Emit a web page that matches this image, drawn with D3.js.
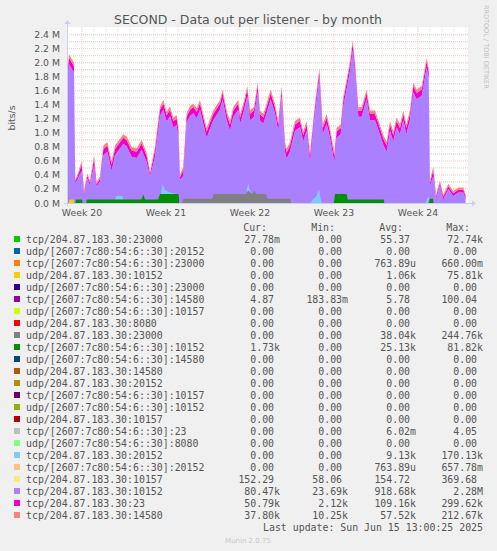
<!DOCTYPE html>
<html><head><meta charset="utf-8">
<script src="https://cdn.jsdelivr.net/npm/d3@7"></script>
<style>body{margin:0;background:#f0f0f0}</style></head>
<body><svg id="c" width="497" height="551"></svg>
<script>
// [day, tcp10152 (purple), tcp23 (magenta), tcp14580 (salmon)] in Mbit/s
const topLayers = [
[0,1.72,0.08,0.05],[0.17,1.98,0.09,0.05],[0.58,1.86,0.09,0.05],[0.69,0.28,0.04,0.03],[0.86,0.33,0.04,0.03],
[1.22,0.46,0.09,0.05],[1.42,0.11,0.04,0.03],[1.69,0.35,0.04,0.03],[1.92,0.25,0.04,0.03],[2.25,0.54,0.09,0.05],
[2.47,0.23,0.04,0.03],[2.75,0.31,0.04,0.03],[3.03,0.68,0.09,0.05],[3.36,0.73,0.09,0.05],[3.72,0.46,0.09,0.05],
[4.0,0.68,0.09,0.05],[4.69,0.84,0.09,0.05],[4.97,0.81,0.09,0.05],[5.39,0.66,0.09,0.05],[5.81,0.64,0.09,0.05],
[6.22,0.76,0.09,0.05],[6.64,0.58,0.09,0.05],[6.92,0.38,0.04,0.03],[7.33,0.66,0.09,0.05],[7.75,1.24,0.09,0.05],
[8.03,1.33,0.09,0.05],[8.31,1.16,0.09,0.05],[8.58,1.24,0.09,0.05],[8.86,1.08,0.09,0.05],[9.14,1.11,0.09,0.05],
[9.28,0.96,0.09,0.05],[9.42,0.33,0.04,0.03],[9.69,0.38,0.09,0.05],[9.97,1.14,0.09,0.05],[10.25,1.24,0.09,0.05],
[10.53,1.28,0.09,0.05],[10.81,1.21,0.09,0.05],[11.08,1.33,0.09,0.05],[11.64,0.93,0.09,0.05],[12.19,1.18,0.09,0.05],
[12.75,1.33,0.09,0.05],[12.97,1.48,0.09,0.05],[13.31,1.18,0.09,0.05],[13.58,1.03,0.09,0.05],[13.86,1.23,0.09,0.05],
[14.28,1.33,0.09,0.05],[14.42,1.13,0.09,0.05],[14.69,1.28,0.09,0.05],[15.03,1.53,0.09,0.05],[15.25,1.18,0.09,0.05],
[15.58,1.23,0.09,0.05],[15.89,1.58,0.09,0.05],[16.08,1.18,0.09,0.05],[16.36,1.13,0.09,0.05],[16.64,1.28,0.09,0.05],
[16.97,1.48,0.09,0.05],[17.33,1.28,0.09,0.05],[17.61,1.03,0.09,0.05],[17.89,1.53,0.09,0.05],[18.17,0.73,0.09,0.05],
[18.31,0.63,0.09,0.05],[18.58,0.73,0.09,0.05],[19.0,1.03,0.09,0.05],[19.42,1.08,0.09,0.05],[19.69,0.88,0.09,0.05],
[19.97,1.03,0.09,0.05],[20.25,0.58,0.09,0.05],[20.67,1.28,0.09,0.05],[21.03,1.78,0.09,0.05],[21.31,0.98,0.09,0.05],
[21.64,1.13,0.09,0.05],[21.92,0.93,0.09,0.05],[22.28,0.58,0.09,0.05],[22.47,0.93,0.09,0.05],[22.81,0.98,0.09,0.05],
[23.03,1.38,0.09,0.05],[23.31,1.63,0.09,0.05],[23.58,1.88,0.09,0.05],[23.81,2.18,0.09,0.05],[24.0,1.88,0.09,0.05],
[24.28,1.23,0.09,0.05],[24.56,1.23,0.09,0.05],[24.97,1.48,0.09,0.05],[25.25,1.18,0.09,0.05],[25.67,1.18,0.09,0.05],
[26.08,0.98,0.09,0.05],[26.36,0.83,0.09,0.05],[26.64,0.73,0.09,0.05],[26.92,1.03,0.09,0.05],[27.19,0.88,0.09,0.05],
[27.47,1.08,0.09,0.05],[27.75,0.98,0.09,0.05],[28.03,1.18,0.09,0.05],[28.28,0.98,0.09,0.05],[28.58,1.18,0.09,0.05],
[28.86,1.58,0.09,0.05],[29.14,1.48,0.09,0.05],[29.56,1.53,0.09,0.05],[29.97,1.93,0.09,0.05],[30.14,1.78,0.09,0.05],
[30.25,0.25,0.04,0.03],[30.53,0.38,0.09,0.05],[30.75,0.05,0.04,0.03],[31.08,0.25,0.04,0.03],[31.36,0.05,0.04,0.03],
[31.78,0.20,0.04,0.03],[32.19,0.10,0.04,0.03],[32.61,0.15,0.04,0.03],[33.03,0.15,0.04,0.03],[33.22,0.05,0.04,0.03]
];
const lightBlue = [[3.9,0],[4.1,0.1],[4.6,0.1],[4.8,0],[7.7,0],[7.8,0.1],[7.95,0.27],[8.2,0.18],[8.6,0.15],[9.2,0.12],[9.3,0],
 [14.9,0],[15.0,0.2],[15.1,0.28],[15.3,0.15],[15.5,0],[20.3,0],[20.5,0.05],[20.8,0.1],[21.0,0.2],[21.15,0.05],[21.25,0],[29.9,0],[30.1,0.1],[30.3,0]];
const gray = [[0.1,0],[0.25,0.08],[0.4,0],[6.2,0],[6.35,0.08],[6.5,0],[9.6,0],[9.7,0.06],[12.1,0.06],[12.2,0.13],[14.9,0.13],[15.1,0.18],[15.4,0.13],[15.6,0.17],[15.8,0.13],[16.6,0.13],[16.7,0.06],[18.6,0.06],[18.7,0],
 [22.2,0],[22.3,0.1],[23.3,0.1],[23.4,0],[30.1,0],[30.2,0.06],[30.4,0]];
const darkGreen = [[0.7,0],[0.75,0.05],[1.25,0.05],[1.3,0],[1.6,0],[1.65,0.05],[6.2,0.05],[6.36,0.12],[6.5,0.05],[7.6,0.05],[7.75,0.13],[9.3,0.13],[9.35,0],
 [22.25,0],[22.35,0.13],[23.3,0.13],[23.4,0.05],[26.4,0.05],[26.45,0],[30.2,0],[30.25,0.06],[30.5,0.06],[30.55,0]];
const yellow = [[0.15,0],[0.2,0.05],[0.55,0.05],[0.6,0]];
const yTicks = [0,0.2,0.4,0.6,0.8,1.0,1.2,1.4,1.6,1.8,2.0,2.2,2.4];
const weekTicks = [[1.25,"Week 20"],[8.25,"Week 21"],[15.25,"Week 22"],[22.25,"Week 23"],[29.25,"Week 24"]];
const legendNames = ["tcp/204.87.183.30:23000","udp/[2607:7c80:54:6::30]:20152","tcp/[2607:7c80:54:6::30]:23000","udp/204.87.183.30:10152","udp/[2607:7c80:54:6::30]:23000","tcp/[2607:7c80:54:6::30]:14580","udp/[2607:7c80:54:6::30]:10157","udp/204.87.183.30:8080","udp/204.87.183.30:23000","tcp/[2607:7c80:54:6::30]:10152","udp/[2607:7c80:54:6::30]:14580","udp/204.87.183.30:14580","udp/204.87.183.30:20152","tcp/[2607:7c80:54:6::30]:10157","udp/[2607:7c80:54:6::30]:10152","udp/204.87.183.30:10157","tcp/[2607:7c80:54:6::30]:23","udp/[2607:7c80:54:6::30]:8080","tcp/204.87.183.30:20152","tcp/[2607:7c80:54:6::30]:20152","tcp/204.87.183.30:10157","tcp/204.87.183.30:10152","tcp/204.87.183.30:23","tcp/204.87.183.30:14580"];
const legendColors = ["#00CC00","#0066B3","#FF8000","#FFCC00","#330099","#990099","#CCFF00","#FF0000","#808080","#008F00","#00487D","#B35A00","#B38F00","#6B006B","#8FB300","#B30000","#BEBEBE","#80FF80","#80C9FF","#FFC080","#FFE680","#AA80FF","#EE00CC","#FF8080"];
const curVals = ["27.78m","0.00","0.00","0.00","0.00","4.87","0.00","0.00","0.00","1.73k","0.00","0.00","0.00","0.00","0.00","0.00","0.00","0.00","0.00","0.00","152.29","80.47k","50.79k","37.80k"];
const minVals = ["0.00","0.00","0.00","0.00","0.00","183.83m","0.00","0.00","0.00","0.00","0.00","0.00","0.00","0.00","0.00","0.00","0.00","0.00","0.00","0.00","58.06","23.69k","2.12k","10.25k"];
const avgVals = ["55.37","0.00","763.89u","1.06k","0.00","5.78","0.00","0.00","38.04k","25.13k","0.00","0.00","0.00","0.00","0.00","0.00","6.02m","0.00","9.13k","763.89u","154.72","918.68k","109.16k","57.52k"];
const maxVals = ["72.74k","0.00","660.00m","75.81k","0.00","100.04","0.00","0.00","244.76k","81.82k","0.00","0.00","0.00","0.00","0.00","0.00","4.05","0.00","170.13k","657.78m","369.68","2.28M","299.62k","212.67k"];

const svg = d3.select("#c");
const x = d3.scaleLinear().domain([0,33.42]).range([67,468]);
const y = d3.scaleLinear().domain([0,2.4]).range([203,34.7]);
svg.append("rect").attr("x",67).attr("y",27).attr("width",401).attr("height",176).attr("fill","#fff");
// grid
for(let d=1.25; d<33.4; d+=1){
  const major = Math.abs(((d-1.25)%7))<1e-6;
  svg.append("line").attr("x1",x(d)).attr("x2",x(d)).attr("y1",27).attr("y2",203)
    .attr("stroke",major?"#e8a0a0":"#d8d8d8").attr("stroke-width",0.6).attr("stroke-dasharray","1,1");
}
for(let v=0.1; v<2.45; v+=0.1){
  svg.append("line").attr("x1",67).attr("x2",468).attr("y1",y(v)).attr("y2",y(v))
    .attr("stroke","#e8a0a0").attr("stroke-width",0.6).attr("stroke-dasharray","1,1");
}
const stackKeys=[1,2,3], stackCols=["#AA80FF","#EE00CC","#FF8080"];
stackKeys.forEach((k,i)=>{
  const area=d3.area().x(r=>x(r[0]))
    .y0(r=>y(d3.sum(r.slice(1,k))))
    .y1(r=>y(d3.sum(r.slice(1,k+1))));
  svg.append("path").datum(topLayers).attr("d",area).attr("fill",stackCols[i]);
});
const a2=d3.area().x(r=>x(r[0])).y0(y(0)).y1(r=>y(r[1]));
[[lightBlue,"#80C9FF"],[gray,"#808080"],[darkGreen,"#008F00"],[yellow,"#FFCC00"]].forEach(([d,c])=>{
  svg.append("path").datum(d).attr("d",a2).attr("fill",c);
});
// axes
svg.append("line").attr("x1",64).attr("x2",472).attr("y1",203.5).attr("y2",203.5).attr("stroke","#c8d0f0");
svg.append("line").attr("x1",67.5).attr("x2",67.5).attr("y1",24).attr("y2",206).attr("stroke","#c8d0f0");
svg.append("path").attr("d","M472,200.5 L476,203.5 L472,206.5Z").attr("fill","#c8d0f0");
svg.append("path").attr("d","M64.5,24 L67.5,20 L70.5,24Z").attr("fill","#c8d0f0");
yTicks.forEach(v=>{
  svg.append("text").attr("x",60).attr("y",y(v)+3.5).attr("text-anchor","end")
    .attr("font-family","DejaVu Sans").attr("font-size",9.3).attr("fill","#555")
    .text(v.toFixed(1)+" M");
});
weekTicks.forEach(([d,t])=>{
  svg.append("text").attr("x",x(d)).attr("y",216).attr("text-anchor","middle")
    .attr("font-family","DejaVu Sans").attr("font-size",9.3).attr("fill","#555").text(t);
});
svg.append("text").attr("x",248).attr("y",24).attr("text-anchor","middle")
  .attr("font-family","DejaVu Sans").attr("font-size",12.5).attr("fill","#555")
  .text("SECOND - Data out per listener - by month");
svg.append("text").attr("transform","translate(15,118) rotate(-90)").attr("text-anchor","middle")
  .attr("font-family","DejaVu Sans").attr("font-size",9.3).attr("fill","#555").text("bits/s");
svg.append("text").attr("transform","translate(484,5) rotate(90)").attr("text-anchor","start")
  .attr("font-family","DejaVu Sans").attr("font-size",6.5).attr("fill","#c0c0c0").text("RRDTOOL / TOBI OETIKER");
// legend
const mono={"font-family":"DejaVu Sans Mono","font-size":9.9,"fill":"#555"};
function t(xp,yp,s,anchor){const e=svg.append("text").attr("x",xp).attr("y",yp).attr("text-anchor",anchor||"start").attr("xml:space","preserve").style("white-space","pre").text(s);for(const k in mono)e.attr(k,mono[k]);return e;}
t(267,231,"Cur:","end");t(335,231,"Min:","end");t(403,231,"Avg:","end");t(470,231,"Max:","end");
const sfx=s=>/[a-zA-Z]$/.test(s)?s:s+" ";
legendNames.forEach((n,i)=>{
  const yy=243+i*12;
  svg.append("rect").attr("x",14).attr("y",yy-7).attr("width",6).attr("height",6).attr("fill",legendColors[i]);
  t(26,yy,n);
  t(280,yy,sfx(curVals[i]),"end");t(348,yy,sfx(minVals[i]),"end");
  t(416,yy,sfx(avgVals[i]),"end");t(483,yy,sfx(maxVals[i]),"end");
});
t(483,531,"Last update: Sun Jun 15 13:00:25 2025","end");
svg.append("text").attr("x",248).attr("y",543).attr("text-anchor","middle")
  .attr("font-family","DejaVu Sans").attr("font-size",7).attr("fill","#c8c8c8").text("Munin 2.0.75");
</script></body></html>
